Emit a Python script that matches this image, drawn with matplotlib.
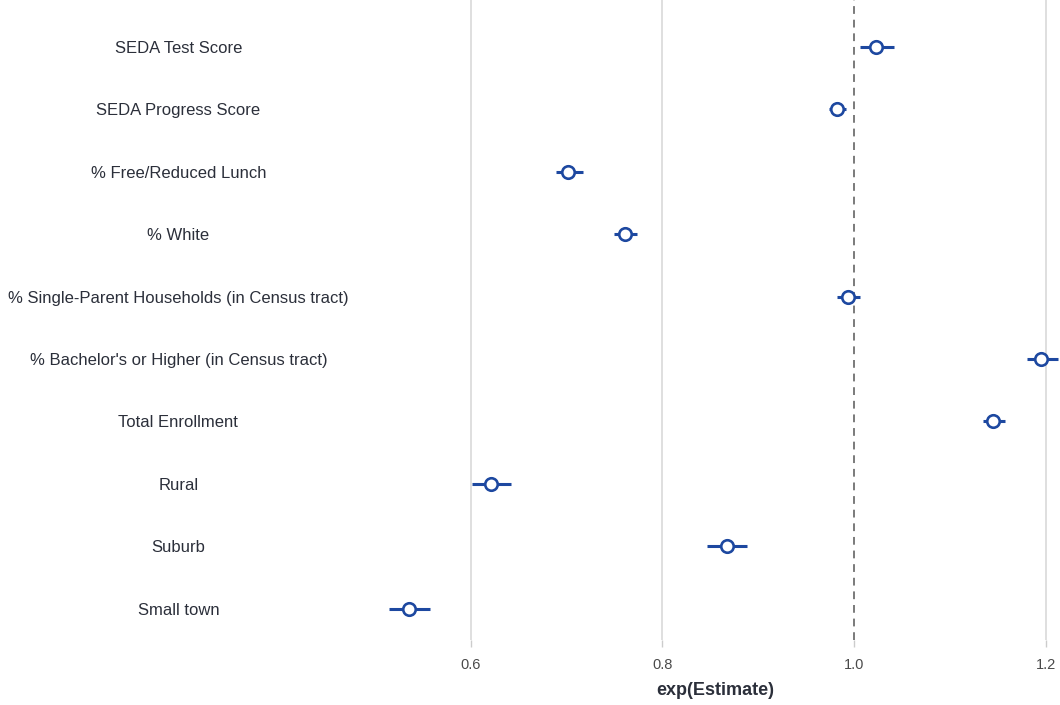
import matplotlib
matplotlib.use("Agg")
import matplotlib.pyplot as plt

plt.rcParams['font.family'] = ['Liberation Sans', 'DejaVu Sans']

# -----------------
# Data
# -----------------

labels = [
    "SEDA Test Score",
    "SEDA Progress Score",
    "% Free/Reduced Lunch",
    "% White",
    "% Single-Parent Households (in Census tract)",
    "% Bachelor's or Higher (in Census tract)",
    "Total Enrollment",
    "Rural",
    "Suburb",
    "Small town",
]
estimate = [1.023, 0.982, 0.702, 0.761, 0.994, 1.195, 1.145, 0.621, 0.867, 0.536]
ci_low = [1.006, 0.974, 0.689, 0.749, 0.982, 1.180, 1.134, 0.601, 0.846, 0.515]
ci_high = [1.042, 0.991, 0.717, 0.773, 1.006, 1.212, 1.157, 0.642, 0.888, 0.558]

xticks = [0.6, 0.8, 1.0, 1.2]

# -----------------
# Plot
# -----------------

blue = '#1d48a0'
text_col = '#2b2f3a'

fig = plt.figure(figsize=(10.6, 7.05), dpi=100)
ax = fig.add_axes([370 / 1060, 65 / 705, 690 / 1060, 640 / 705])

ypos = list(range(len(labels)))

# grid lines (plain, 1.0 drawn dashed)
for xt in xticks:
    if xt == 1.0:
        ax.axvline(xt, color='#7a7a7a', linestyle=(0, (4, 3)), linewidth=1.4, zorder=1)
    else:
        ax.axvline(xt, color='#dcdcdc', linewidth=1.3, zorder=1)

ax.hlines(ypos, ci_low, ci_high, color=blue, linewidth=2.2, zorder=2)
ax.plot(estimate, ypos, linestyle='none', marker='o', markersize=9,
        markerfacecolor='white', markeredgecolor=blue, markeredgewidth=1.9, zorder=3)

ax.set_xlim(0.495, 1.2146)
ax.set_ylim(9.5, -0.75)

ax.set_xticks(xticks)
ax.set_xticklabels([f"{x:.1f}" for x in xticks], fontsize=10.5, color='#4a4a4a')
ax.tick_params(axis='x', length=5, width=1, color='#cccccc', pad=8)

ax.set_yticks(ypos)
ax.set_yticklabels(labels, fontsize=12, color=text_col, ha='center')
ax.tick_params(axis='y', length=0, pad=138)

ax.set_xlabel('exp(Estimate)', fontsize=13, fontweight='bold', color=text_col, labelpad=7)

for side in ['top', 'right', 'left', 'bottom']:
    ax.spines[side].set_visible(False)

fig.savefig('out.png', dpi=100)
